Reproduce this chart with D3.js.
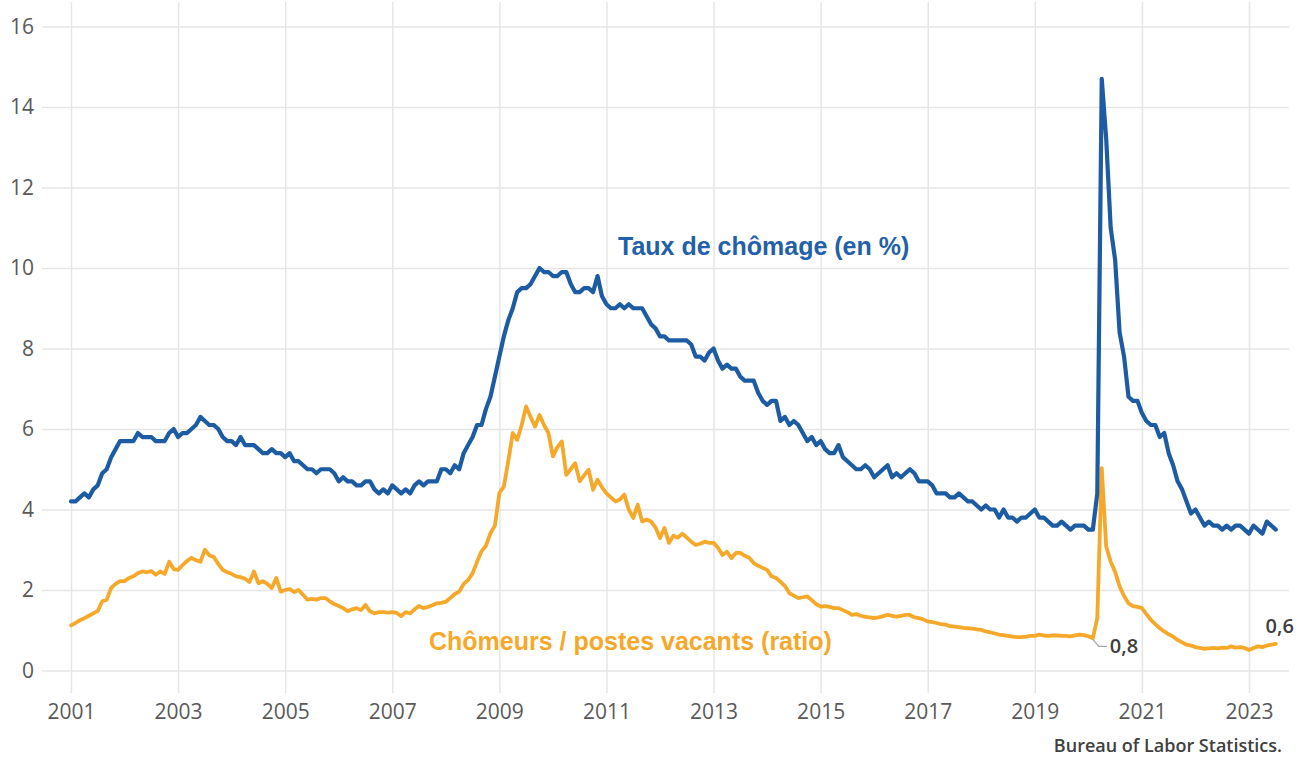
<!DOCTYPE html>
<html>
<head>
<meta charset="utf-8">
<script src="https://cdn.jsdelivr.net/npm/d3@7"></script>
<style>
  body { margin: 0; background: #fff; }
  svg { display: block; }
</style>
</head>
<body>
<svg id="chart"></svg>
<script>
// monthly values, Jan 2001 -> Jul 2023
var startYear = 2001;

var unemploymentRate = [
  4.2, 4.2, 4.3, 4.4, 4.3, 4.5, 4.6, 4.9, 5.0, 5.3, 5.5, 5.7,
  5.7, 5.7, 5.7, 5.9, 5.8, 5.8, 5.8, 5.7, 5.7, 5.7, 5.9, 6.0,
  5.8, 5.9, 5.9, 6.0, 6.1, 6.3, 6.2, 6.1, 6.1, 6.0, 5.8, 5.7,
  5.7, 5.6, 5.8, 5.6, 5.6, 5.6, 5.5, 5.4, 5.4, 5.5, 5.4, 5.4,
  5.3, 5.4, 5.2, 5.2, 5.1, 5.0, 5.0, 4.9, 5.0, 5.0, 5.0, 4.9,
  4.7, 4.8, 4.7, 4.7, 4.6, 4.6, 4.7, 4.7, 4.5, 4.4, 4.5, 4.4,
  4.6, 4.5, 4.4, 4.5, 4.4, 4.6, 4.7, 4.6, 4.7, 4.7, 4.7, 5.0,
  5.0, 4.9, 5.1, 5.0, 5.4, 5.6, 5.8, 6.1, 6.1, 6.5, 6.8, 7.3,
  7.8, 8.3, 8.7, 9.0, 9.4, 9.5, 9.5, 9.6, 9.8, 10.0, 9.9, 9.9,
  9.8, 9.8, 9.9, 9.9, 9.6, 9.4, 9.4, 9.5, 9.5, 9.4, 9.8, 9.3,
  9.1, 9.0, 9.0, 9.1, 9.0, 9.1, 9.0, 9.0, 9.0, 8.8, 8.6, 8.5,
  8.3, 8.3, 8.2, 8.2, 8.2, 8.2, 8.2, 8.1, 7.8, 7.8, 7.7, 7.9,
  8.0, 7.7, 7.5, 7.6, 7.5, 7.5, 7.3, 7.2, 7.2, 7.2, 6.9, 6.7,
  6.6, 6.7, 6.7, 6.2, 6.3, 6.1, 6.2, 6.1, 5.9, 5.7, 5.8, 5.6,
  5.7, 5.5, 5.4, 5.4, 5.6, 5.3, 5.2, 5.1, 5.0, 5.0, 5.1, 5.0,
  4.8, 4.9, 5.0, 5.1, 4.8, 4.9, 4.8, 4.9, 5.0, 4.9, 4.7, 4.7,
  4.7, 4.6, 4.4, 4.4, 4.4, 4.3, 4.3, 4.4, 4.3, 4.2, 4.2, 4.1,
  4.0, 4.1, 4.0, 4.0, 3.8, 4.0, 3.8, 3.8, 3.7, 3.8, 3.8, 3.9,
  4.0, 3.8, 3.8, 3.7, 3.6, 3.6, 3.7, 3.6, 3.5, 3.6, 3.6, 3.6,
  3.5, 3.5, 4.4, 14.7, 13.2, 11.0, 10.2, 8.4, 7.8, 6.8, 6.7, 6.7,
  6.4, 6.2, 6.1, 6.1, 5.8, 5.9, 5.4, 5.1, 4.7, 4.5, 4.2, 3.9,
  4.0, 3.8, 3.6, 3.7, 3.6, 3.6, 3.5, 3.6, 3.5, 3.6, 3.6, 3.5,
  3.4, 3.6, 3.5, 3.4, 3.7, 3.6, 3.5
];

var unemployedPerOpening = [
  1.12, 1.18, 1.25, 1.30, 1.36, 1.42, 1.48, 1.72, 1.76, 2.05, 2.15, 2.22,
  2.22, 2.30, 2.34, 2.42, 2.46, 2.44, 2.47, 2.38, 2.46, 2.40, 2.70, 2.52,
  2.50, 2.62, 2.72, 2.80, 2.74, 2.70, 3.00, 2.86, 2.82, 2.65, 2.50, 2.44,
  2.40, 2.34, 2.32, 2.28, 2.20, 2.46, 2.17, 2.22, 2.15, 2.05, 2.30, 1.96,
  2.00, 2.02, 1.95, 2.00, 1.88, 1.76, 1.78, 1.76, 1.80, 1.80, 1.72, 1.65,
  1.60, 1.55, 1.47, 1.52, 1.55, 1.50, 1.63, 1.47, 1.42, 1.45, 1.45, 1.44,
  1.45, 1.43, 1.35, 1.45, 1.42, 1.52, 1.60, 1.55, 1.58, 1.62, 1.67, 1.68,
  1.71, 1.80, 1.90, 1.96, 2.15, 2.25, 2.42, 2.70, 2.96, 3.10, 3.41, 3.60,
  4.41, 4.57, 5.20, 5.90, 5.73, 6.10, 6.56, 6.30, 6.06, 6.35, 6.10, 5.90,
  5.32, 5.55, 5.69, 4.86, 5.00, 5.15, 4.70, 4.85, 4.99, 4.49, 4.74, 4.55,
  4.40, 4.30, 4.20, 4.25, 4.37, 4.00, 3.79, 4.12, 3.70, 3.75, 3.70, 3.55,
  3.29, 3.54, 3.17, 3.35, 3.30, 3.40, 3.30, 3.20, 3.12, 3.15, 3.20, 3.17,
  3.17, 3.05, 2.87, 2.95, 2.79, 2.92, 2.92, 2.85, 2.80, 2.67, 2.60, 2.55,
  2.50, 2.34, 2.30, 2.20, 2.10, 1.92, 1.86, 1.80, 1.82, 1.84, 1.75, 1.65,
  1.59, 1.60, 1.58, 1.55, 1.55, 1.50, 1.45, 1.38, 1.40, 1.36, 1.33, 1.32,
  1.30, 1.32, 1.35, 1.38, 1.36, 1.34, 1.36, 1.38, 1.38, 1.32, 1.30, 1.27,
  1.22, 1.20, 1.18, 1.15, 1.14, 1.10, 1.09, 1.08, 1.06, 1.05, 1.04, 1.02,
  1.01, 0.97, 0.95, 0.92, 0.89, 0.88, 0.86, 0.84, 0.83, 0.83, 0.84, 0.86,
  0.86, 0.89, 0.87, 0.86, 0.87, 0.87, 0.86, 0.86, 0.85, 0.87, 0.89, 0.88,
  0.85, 0.80, 1.30, 5.03, 3.08, 2.70, 2.45, 2.09, 1.85, 1.67, 1.60, 1.58,
  1.55, 1.40, 1.26, 1.15, 1.05, 0.97, 0.90, 0.84, 0.76, 0.70, 0.64, 0.62,
  0.58, 0.56, 0.54, 0.55, 0.56, 0.55, 0.57, 0.56, 0.60, 0.57, 0.58, 0.56,
  0.51, 0.56, 0.60, 0.58, 0.62, 0.64, 0.66
];

var yearTicks = [2001, 2003, 2005, 2007, 2009, 2011, 2013, 2015, 2017, 2019, 2021, 2023];
var valueTicks = [0, 2, 4, 6, 8, 10, 12, 14, 16];

var seriesLabels = ['Taux de chômage (en %)', 'Chômeurs / postes vacants (ratio)'];
var source = 'Bureau of Labor Statistics.';

// annotated points: index in the monthly arrays + label
var annotations = [
  { index: 229, value: 0.8, text: '0,8' },   // fev. 2020
  { index: 270, value: 0.66, text: '0,6' }   // juil. 2023
];

document.addEventListener('DOMContentLoaded', function () {
  drawChart();
});

function drawChart() {
  var svgWidth = 1307, svgHeight = 757;
  var blue = '#1d5ba3', orange = '#f5a82a';

  var svg = d3.select('#chart')
    .attr('width', svgWidth)
    .attr('height', svgHeight);

  var x = d3.scaleLinear().domain([2001, 2023]).range([71, 1249]);
  var y = d3.scaleLinear().domain([0, 16]).range([670.5, 26.5]);

  function toPoints(arr) {
    return arr.map(function (v, i) { return { t: startYear + i / 12, v: v }; });
  }
  var blueData = toPoints(unemploymentRate);
  var orangeData = toPoints(unemployedPerOpening);

  // vertical grid + year labels
  var xAxis = svg.append('g')
    .attr('transform', 'translate(0,693)')
    .call(d3.axisBottom(x).tickValues(yearTicks).tickFormat(d3.format('d'))
      .tickSize(-691).tickPadding(11));
  xAxis.select('.domain').remove();
  xAxis.selectAll('line').attr('stroke', '#e6e6e6').attr('stroke-width', 1.5);
  xAxis.selectAll('text')
    .attr('fill', '#595959')
    .style('font-family', '"Open Sans", sans-serif')
    .style('font-size', '21px');

  // horizontal grid + value labels
  var yAxis = svg.append('g')
    .attr('transform', 'translate(42,0)')
    .call(d3.axisLeft(y).tickValues(valueTicks).tickFormat(d3.format('d'))
      .tickSize(-(1289 - 42)).tickPadding(8));
  yAxis.select('.domain').remove();
  yAxis.selectAll('line').attr('stroke', '#e6e6e6').attr('stroke-width', 1.5);
  yAxis.selectAll('text')
    .attr('fill', '#595959')
    .style('font-family', '"Open Sans", sans-serif')
    .style('font-size', '21px');

  var line = d3.line()
    .x(function (d) { return x(d.t); })
    .y(function (d) { return y(d.v); });

  svg.append('path')
    .datum(orangeData)
    .attr('fill', 'none')
    .attr('stroke', orange)
    .attr('stroke-width', 3.8)
    .attr('stroke-linejoin', 'round')
    .attr('stroke-linecap', 'round')
    .attr('d', line);

  svg.append('path')
    .datum(blueData)
    .attr('fill', 'none')
    .attr('stroke', blue)
    .attr('stroke-width', 4.2)
    .attr('stroke-linejoin', 'round')
    .attr('stroke-linecap', 'round')
    .attr('d', line);

  // series labels
  svg.append('text')
    .attr('x', 618).attr('y', 255)
    .attr('fill', '#2360aa')
    .style('font-family', '"Liberation Sans", Arial, sans-serif')
    .style('font-weight', 'bold')
    .style('font-size', '25px')
    .text(seriesLabels[0]);

  svg.append('text')
    .attr('x', 429).attr('y', 650)
    .attr('fill', orange)
    .style('font-family', '"Liberation Sans", Arial, sans-serif')
    .style('font-weight', 'bold')
    .style('font-size', '25px')
    .text(seriesLabels[1]);

  // data labels
  var a0 = annotations[0];
  var px = x(startYear + a0.index / 12), py = y(a0.value);
  svg.append('path')
    .attr('d', 'M' + px + ',' + (py + 1) + 'L' + (px + 6) + ',' + (py + 8) + 'L' + (px + 14) + ',' + (py + 8))
    .attr('fill', 'none')
    .attr('stroke', '#a6a6a6')
    .attr('stroke-width', 1.2);
  svg.append('text')
    .attr('x', px + 17).attr('y', py + 15)
    .attr('fill', '#404040')
    .style('font-family', '"Open Sans", sans-serif')
    .style('font-weight', 600)
    .style('font-size', '20px')
    .text(a0.text);

  var a1 = annotations[1];
  svg.append('text')
    .attr('x', x(startYear + a1.index / 12) + 4).attr('y', y(a1.value) - 11)
    .attr('text-anchor', 'middle')
    .attr('fill', '#404040')
    .style('font-family', '"Open Sans", sans-serif')
    .style('font-weight', 600)
    .style('font-size', '20px')
    .text(a1.text);

  // source
  svg.append('text')
    .attr('x', 1282).attr('y', 752)
    .attr('text-anchor', 'end')
    .attr('fill', '#404040')
    .style('font-family', '"Open Sans", sans-serif')
    .style('font-weight', 600)
    .style('font-size', '18px')
    .text(source);
}
</script>
</body>
</html>
